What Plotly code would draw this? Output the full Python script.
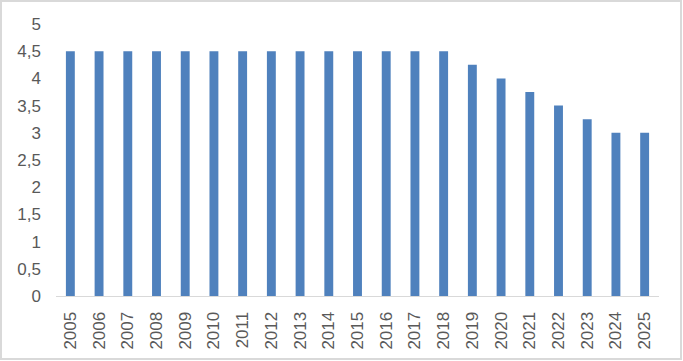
import plotly.graph_objects as go

years = [str(y) for y in range(2005, 2026)]
values = [4.5]*14 + [4.25, 4.0, 3.75, 3.5, 3.25, 3.0, 3.0]
ytick_vals = [0, 0.5, 1, 1.5, 2, 2.5, 3, 3.5, 4, 4.5, 5]
ytick_text = ["0", "0,5", "1", "1,5", "2", "2,5", "3", "3,5", "4", "4,5", "5"]

W, H = 683, 361
ml, mr, mt, mb = 56, 24, 24, 65
pw, ph = W - ml - mr, H - mt - mb

fig = go.Figure(go.Bar(x=years, y=values, marker_color="#4F81BD", marker_line_width=0))

fig.update_layout(
    width=W, height=H,
    margin=dict(l=ml, r=mr, t=mt, b=mb),
    paper_bgcolor="white", plot_bgcolor="white",
    bargap=0.69,
    showlegend=False,
    font=dict(family="Liberation Sans, Arial", size=16, color="#595959"),
)
fig.update_yaxes(range=[0, 5], tickvals=ytick_vals, ticktext=ytick_text,
                 showgrid=False, zeroline=False, showline=False,
                 ticks="", ticklabelstandoff=14, tickfont=dict(size=17))
fig.update_xaxes(type="category", tickangle=-90, showgrid=False,
                 showline=True, linecolor="#D9D9D9", linewidth=1,
                 ticks="", ticklabelstandoff=8, tickfont=dict(size=17))

# outer chart border
fig.add_shape(type="rect", xref="paper", yref="paper",
              x0=(1 - ml) / pw, x1=(W - 2 - ml) / pw,
              y0=-(H - 2 - mt - ph) / ph, y1=1 + (mt - 1) / ph,
              line=dict(color="#D9D9D9", width=2), fillcolor="rgba(0,0,0,0)",
              layer="below")

fig.write_html("out.html")
